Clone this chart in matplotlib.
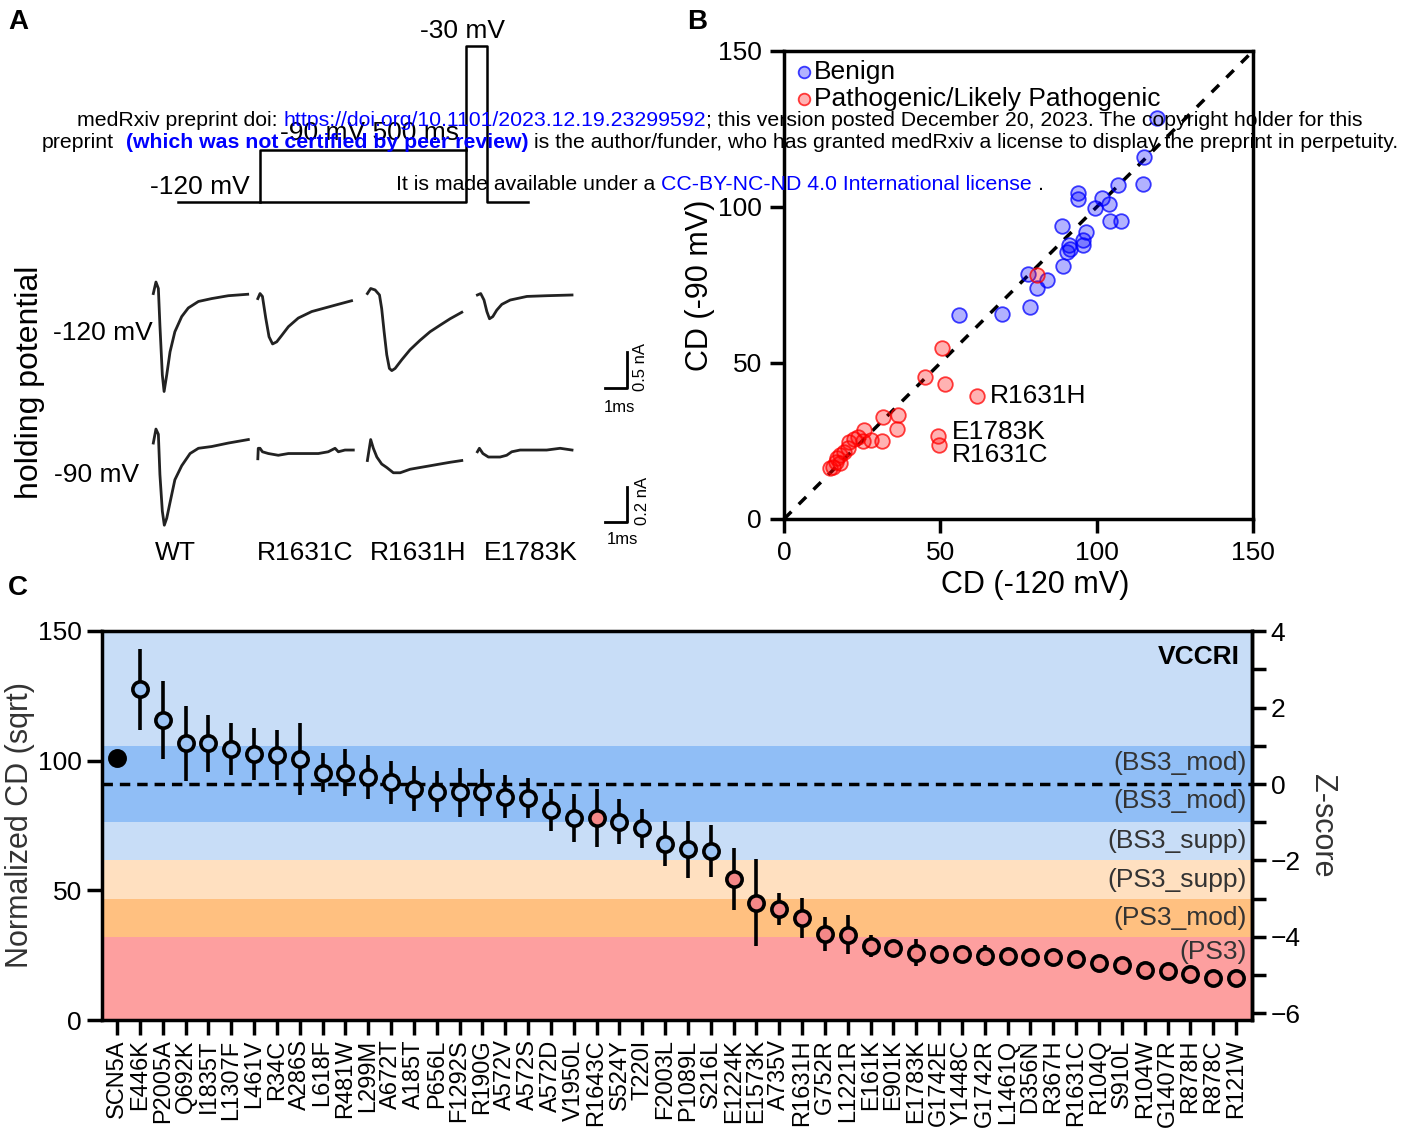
import numpy as np
import matplotlib.pyplot as plt
from matplotlib.ticker import FixedLocator

plt.rcParams['font.family'] = ['Liberation Sans', 'DejaVu Sans']
plt.rcParams['axes.linewidth'] = 2.5

# ---------------- data ----------------
# A: voltage protocol (ms, mV)
prot_t_120 = [0, 700, 700, 750, 750, 850]
prot_v_120 = [-120, -120, -30, -30, -120, -120]
prot_t_90 = [200, 200, 700]
prot_v_90 = [-120, -90, -90]

# A: sodium currents (ms, nA)
wt120_t = [0, 0.12, 0.23, 0.30, 0.41, 0.49, 0.61, 0.76, 0.98, 1.29, 1.59, 2.05, 2.65, 3.41, 4.29]
wt120_i = [0.02, 0.18, 0.09, -0.42, -1.11, -1.34, -1.11, -0.79, -0.51, -0.30, -0.18, -0.09, -0.05, -0.01, 0.01]
c120_t = [0, 0.10, 0.21, 0.36, 0.51, 0.67, 0.86, 1.09, 1.39, 1.84, 2.45, 3.05, 3.65, 4.26]
c120_i = [-0.05, 0.02, -0.02, -0.32, -0.58, -0.68, -0.65, -0.56, -0.44, -0.32, -0.23, -0.18, -0.13, -0.08]
h120_t = [0, 0.15, 0.35, 0.55, 0.65, 0.76, 0.88, 1.0, 1.11, 1.26, 1.56, 1.94, 2.39, 2.85, 3.30, 3.76, 4.29]
h120_i = [0.02, 0.09, 0.07, 0.0, -0.19, -0.51, -0.83, -1.02, -1.05, -1.02, -0.90, -0.76, -0.63, -0.51, -0.42, -0.33, -0.24]
k120_t = [0, 0.15, 0.30, 0.43, 0.55, 0.70, 0.88, 1.11, 1.49, 2.25, 3.15, 4.30]
k120_i = [0, 0.02, -0.07, -0.23, -0.33, -0.30, -0.21, -0.13, -0.07, -0.02, -0.01, 0]

wt90_t = [0, 0.12, 0.23, 0.30, 0.41, 0.50, 0.61, 0.76, 0.98, 1.29, 1.67, 2.05, 2.65, 3.41, 4.32]
wt90_i = [0.04, 0.12, 0.09, -0.14, -0.35, -0.43, -0.39, -0.30, -0.17, -0.09, -0.02, 0.01, 0.02, 0.04, 0.06]
c90_t = [0, 0.02, 0.10, 0.21, 0.48, 0.93, 1.39, 1.84, 2.30, 2.75, 3.20, 3.51, 3.66, 3.96, 4.34]
c90_i = [-0.05, 0.01, 0.01, -0.01, -0.02, -0.03, -0.02, -0.02, -0.02, -0.02, -0.01, 0.01, -0.01, 0.0, 0.0]
h90_t = [0, 0.15, 0.27, 0.43, 0.65, 0.88, 1.18, 1.49, 1.94, 2.39, 2.85, 3.30, 3.76, 4.29]
h90_i = [-0.06, 0.06, 0.01, -0.04, -0.08, -0.10, -0.13, -0.13, -0.11, -0.10, -0.09, -0.08, -0.07, -0.06]
k90_t = [0, 0.09, 0.25, 0.50, 0.73, 1.03, 1.33, 1.56, 1.94, 2.55, 3.15, 3.76, 4.30]
k90_i = [-0.01, 0.01, -0.02, -0.04, -0.04, -0.04, -0.03, -0.01, 0.0, 0.0, 0.0, 0.01, 0.0]

trace_names = ['WT', 'R1631C', 'R1631H', 'E1783K']
trace_offset = [0, 4.75, 9.73, 14.73]   # ms between columns

# B: current density at -120 vs -90 mV
benign_x = [119.4, 115.1, 114.7, 106.9, 94.1, 94.1, 101.6, 104.0, 99.6, 104.3, 107.8, 89.0, 96.6,
            95.6, 95.6, 91.2, 91.6, 90.5, 89.3, 78.0, 84.2, 81.0, 56.0, 69.6, 78.8]
benign_y = [128.4, 115.9, 107.3, 107.1, 104.6, 102.5, 102.8, 101.0, 99.6, 95.6, 95.6, 93.9, 92.1,
            89.4, 87.8, 87.8, 86.4, 85.7, 81.1, 78.5, 76.6, 73.9, 65.4, 65.7, 68.0]
path_x = [81.0, 50.4, 45.0, 51.6, 61.6, 36.5, 31.8, 36.2, 49.4, 49.7, 25.6, 31.4, 27.7, 25.2, 23.8,
          22.3, 20.8, 20.4, 19.3, 17.9, 17.1, 17.9, 15.7, 14.6, 16.6]
path_y = [78.2, 54.7, 45.4, 43.2, 39.5, 33.3, 32.8, 28.8, 26.7, 23.7, 28.5, 25.0, 25.3, 25.0, 26.2,
          25.5, 24.8, 22.7, 21.6, 20.5, 19.4, 17.8, 16.8, 16.2, 18.4]
named_idx = [4, 8, 9]
named_lbl = ['R1631H', 'E1783K', 'R1631C']

# C: normalized current density per variant
variants = ['SCN5A', 'E446K', 'P2005A', 'Q692K', 'I1835T', 'L1307F', 'L461V', 'R34C', 'A286S',
            'L618F', 'R481W', 'L299M', 'A672T', 'A185T', 'P656L', 'F1292S', 'R190G', 'A572V',
            'A572S', 'A572D', 'V1950L', 'R1643C', 'S524Y', 'T220I', 'F2003L', 'P1089L', 'S216L',
            'E1224K', 'E1573K', 'A735V', 'R1631H', 'G752R', 'L1221R', 'E161K', 'E901K', 'E1783K',
            'G1742E', 'Y1448C', 'G1742R', 'L1461Q', 'D356N', 'R367H', 'R1631C', 'R104Q', 'S910L',
            'R104W', 'G1407R', 'R878H', 'R878C', 'R121W']
cd = [101, 127.5, 115.7, 106.7, 106.7, 104.4, 102.6, 102.2, 100.7, 95.4, 95.4, 93.8, 91.7, 89.1,
      88.1, 87.8, 87.8, 86.1, 85.7, 81.0, 77.8, 77.8, 76.5, 73.9, 67.9, 65.8, 65.3, 54.4, 45.2,
      42.8, 39.2, 33.2, 32.8, 28.5, 27.9, 26.0, 25.5, 25.3, 24.8, 24.7, 24.4, 24.4, 23.4, 21.9,
      21.2, 19.3, 19.0, 17.6, 16.1, 16.1]
cd_err = [0, 15.5, 15, 14.4, 11, 10, 10, 9.5, 14, 7.5, 9, 8.5, 8.3, 8.7, 8, 9.5, 9, 8.2, 7.7, 8,
          9.2, 11.2, 8.8, 7.6, 8.7, 11, 10, 12, 16.8, 6.2, 7.7, 6.6, 7.5, 4.2, 1.5, 5.2, 3, 2, 4,
          2.5, 2, 2, 2, 2.5, 2, 2, 2, 2, 2, 2]
pathogenic = ['R1643C'] + variants[27:]

# z-score scale of panel C
z_mean = 91.0
z_sd = 14.74
band_edges = [1, -1, -2, -3, -4]
band_colors = ['#c8ddf7', '#90bef6', '#c8ddf7', '#ffe0c0', '#ffc080', '#fd9f9f']
band_text = ['(BS3_mod)', '(BS3_mod)', '(BS3_supp)', '(PS3_supp)', '(PS3_mod)', '(PS3)']
band_text_z = [0.55, -0.45, -1.5, -2.52, -3.5, -4.4]

# ---------------- figure ----------------
W, H = 1419, 1135
fig = plt.figure(figsize=(W / 100, H / 100), dpi=100)


def px_axes(x0, y0, x1, y1):
    return fig.add_axes([x0 / W, 1 - y1 / H, (x1 - x0) / W, (y1 - y0) / H])


def ftext(x, y, s, **kw):
    kw.setdefault('ha', 'center')
    kw.setdefault('va', 'center')
    return fig.text(x / W, 1 - y / H, s, **kw)


# panel letters
ftext(18, 22, 'A', fontsize=20, fontweight='bold')
ftext(697, 22, 'B', fontsize=20, fontweight='bold')
ftext(18, 588, 'C', fontsize=20, fontweight='bold')

# ---- A: protocol ----
axp = px_axes(170, 30, 540, 210)
axp.plot(prot_t_120, prot_v_120, color='k', lw=1.8)
axp.plot(prot_t_90, prot_v_90, color='k', lw=1.8)
axp.set_xlim(-19.4, 878.6)
axp.set_ylim(-124.6, -20.75)
axp.axis('off')
ftext(463, 31, '-30 mV', fontsize=19)
ftext(200, 187, '-120 mV', fontsize=19)
ftext(370, 133, '-90 mV 500 ms', fontsize=19)

# ---- A: traces ----
ax_top = px_axes(140, 270, 640, 410)
ax_bot = px_axes(140, 410, 640, 560)
top_traces = [(wt120_t, wt120_i), (c120_t, c120_i), (h120_t, h120_i), (k120_t, k120_i)]
bot_traces = [(wt90_t, wt90_i), (c90_t, c90_i), (h90_t, h90_i), (k90_t, k90_i)]
for off, (t, i) in zip(trace_offset, top_traces):
    ax_top.plot(np.array(t) + off, i, color='#222222', lw=2.0)
for off, (t, i) in zip(trace_offset, bot_traces):
    ax_bot.plot(np.array(t) + off, i, color='#222222', lw=2.0)
ax_top.set_xlim(-0.605, 22.12)
ax_top.set_ylim(-1.597, 0.347)
ax_bot.set_xlim(-0.605, 22.12)
ax_bot.set_ylim(-0.629, 0.229)
# scale bars
ax_top.plot([20.53, 21.53, 21.53], [-1.29, -1.29, -0.79], color='k', lw=2)
ax_top.text(22.15, -1.0, '0.5 nA', rotation=90, fontsize=12, ha='center', va='center')
ax_top.text(21.2, -1.56, '1ms', fontsize=12, ha='center', va='center')
ax_bot.plot([20.53, 21.53, 21.53], [-0.411, -0.411, -0.211], color='k', lw=2)
ax_bot.text(22.25, -0.29, '0.2 nA', rotation=90, fontsize=12, ha='center', va='center')
ax_bot.text(21.3, -0.514, '1ms', fontsize=12, ha='center', va='center')
ax_top.axis('off')
ax_bot.axis('off')

ftext(103, 333, '-120 mV', fontsize=19)
ftext(97, 475, '-90 mV', fontsize=19)
ftext(30, 382, 'holding potential', fontsize=23, rotation=90)
for name, xc in zip(trace_names, [175, 305, 418, 531]):
    ftext(xc, 553, name, fontsize=19)

# ---- B: scatter ----
axb = px_axes(784, 51, 1253, 519)
axb.plot([0, 150], [0, 150], color='k', lw=2.5, ls=(0, (3, 3)), zorder=1)
axb.scatter(benign_x, benign_y, s=110, facecolor=(0, 0, 1, 0.3), edgecolor=(0, 0, 1, 0.75),
            lw=1.3, zorder=2, label='Benign')
axb.scatter(path_x, path_y, s=110, facecolor=(1, 0, 0, 0.3), edgecolor=(1, 0, 0, 0.75),
            lw=1.3, zorder=2, label='Pathogenic/Likely Pathogenic')
for idx, lbl, off in zip(named_idx, named_lbl, [(9.7, 0), (9.7, 2.7), (9.1, -7.2)]):
    axb.annotate(lbl, (path_x[idx], path_y[idx]), xytext=off, textcoords='offset points',
                 fontsize=19, ha='left', va='center')
axb.set_xlim(0, 150)
axb.set_ylim(0, 150)
axb.set_xticks([0, 50, 100, 150])
axb.set_yticks([0, 50, 100, 150])
axb.tick_params(width=2.5, length=10, labelsize=19, pad=6)
axb.set_xlabel('CD (-120 mV)', fontsize=22)
axb.xaxis.set_label_coords(0.536, -0.11)
axb.set_ylabel('CD (-90 mV)', fontsize=22, labelpad=2)
axb.legend(loc='upper left', frameon=False, fontsize=19, handletextpad=0.0, labelspacing=0.1,
           borderaxespad=0.25, borderpad=0.1, handlelength=0.8, markerscale=0.8)

# ---- C: per-variant plot ----
axc = px_axes(102, 631, 1252, 1020)
x = np.arange(len(variants))
z2v = lambda z: z * z_sd + z_mean
v2z = lambda v: (v - z_mean) / z_sd
edges = [150] + [z2v(z) for z in band_edges] + [0]
for k, col in enumerate(band_colors):
    axc.axhspan(edges[k + 1], edges[k], color=col, lw=0, zorder=0)
axc.axhline(z_mean, color='k', lw=2.5, ls=(0, (3, 2)), zorder=1)
axc.errorbar(x, cd, yerr=cd_err, fmt='none', ecolor='k', elinewidth=2.6, zorder=2)
for xi, v, name in zip(x, cd, variants):
    if name == 'SCN5A':
        fc = 'k'
    elif name in pathogenic:
        fc = '#f48888'
    else:
        fc = '#9ec5f5'
    axc.plot(xi, v, 'o', ms=11, mfc=fc, mec='k', mew=2.6, zorder=3)
for s, z in zip(band_text, band_text_z):
    axc.text(0.9957, z2v(z), s, transform=axc.get_yaxis_transform(), ha='right', va='center',
             fontsize=19, color='#333333')
axc.text(0.9896, 0.933, 'VCCRI', transform=axc.transAxes, ha='right', va='center',
         fontsize=19, fontweight='bold')
axc.set_xlim(-0.66, 49.7)
axc.set_ylim(0, 150)
axc.set_yticks([0, 50, 100, 150])
axc.set_xticks(x)
axc.set_xticklabels(variants, rotation=90, fontsize=17)
axc.tick_params(axis='x', width=2.5, length=11, pad=3)
axc.tick_params(axis='y', width=2.5, length=11, labelsize=19)
axc.set_ylabel('Normalized CD (sqrt)', fontsize=22, color='#333333', labelpad=2)
sec = axc.secondary_yaxis('right', functions=(v2z, z2v))
sec.set_yticks([-6, -4, -2, 0, 2, 4])
sec.yaxis.set_minor_locator(FixedLocator([-5, -3, -1, 1, 3]))
sec.tick_params(which='both', width=2.5, length=10, labelsize=19)
sec.spines['right'].set_linewidth(2.5)
sec.set_ylabel('Z-score', rotation=270, fontsize=22, labelpad=26, color='#333333')

# ---- preprint banner ----
renderer = fig.canvas.get_renderer()
fs_banner = 15.3
space_w = (fig.text(0, 0, 'x x', fontsize=fs_banner).get_window_extent(renderer).width
           - fig.text(0, 0, 'xx', fontsize=fs_banner).get_window_extent(renderer).width)
for t in fig.texts[-2:]:
    t.remove()


def banner_line(y, pieces, cx=720):
    items = []
    for gap, s, col, wt in pieces:
        t = ftext(0, y, s, fontsize=fs_banner, color=col, fontweight=wt, ha='left')
        items.append((gap, t, t.get_window_extent(renderer).width))
    total = sum(g * space_w + w for g, _, w in items)
    xx = cx - total / 2
    for g, t, w in items:
        xx += g * space_w
        t.set_x(xx / W)
        xx += w


banner_line(121, [(0, 'medRxiv preprint doi:', 'black', 'normal'),
                  (1, 'https://doi.org/10.1101/2023.12.19.23299592', 'blue', 'normal'),
                  (0, '; this version posted December 20, 2023. The copyright holder for this', 'black', 'normal')])
banner_line(142, [(0, 'preprint', 'black', 'normal'),
                  (2, '(which was not certified by peer review)', 'blue', 'bold'),
                  (1, 'is the author/funder, who has granted medRxiv a license to display the preprint in perpetuity.', 'black', 'normal')])
banner_line(185, [(0, 'It is made available under a', 'black', 'normal'),
                  (1, 'CC-BY-NC-ND 4.0 International license', 'blue', 'normal'),
                  (1, '.', 'black', 'normal')])

fig.savefig('out.png', dpi=100)
